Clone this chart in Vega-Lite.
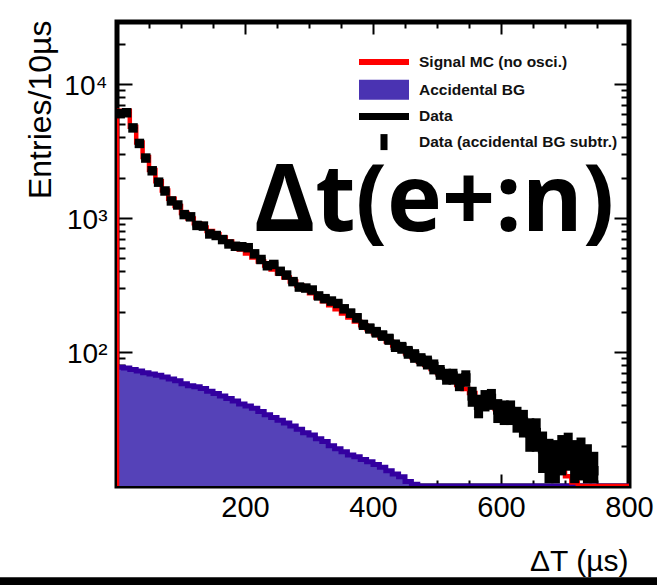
{
  "$schema": "https://vega.github.io/schema/vega-lite/v6.json",
  "width": 512,
  "height": 464,
  "autosize": {"type": "none"},
  "padding": {"left": 117, "top": 22, "right": 28, "bottom": 99},
  "background": "white",
  "config": {
    "view": {"stroke": "black", "strokeWidth": 5},
    "font": "Liberation Sans",
    "axis": {"grid": false, "domain": false, "tickColor": "black", "tickWidth": 2, "labelColor": "black", "titleColor": "black", "zindex": 1, "labelFont": "Liberation Sans", "titleFont": "Liberation Sans", "titleFontWeight": "normal", "labelFlush": false, "labelOverlap": false, "labelBound": false}
  },
  "datasets": {
    "mc": [{"x":0,"v":10},{"x":0,"v":6300},{"x":10,"v":6300},{"x":20,"v":4800},{"x":30,"v":3650},{"x":40,"v":2850},{"x":50,"v":2280},{"x":60,"v":1880},{"x":70,"v":1600},{"x":80,"v":1390},{"x":90,"v":1230},{"x":100,"v":1090},{"x":110,"v":990},{"x":120,"v":915},{"x":130,"v":850},{"x":140,"v":800},{"x":150,"v":755},{"x":160,"v":714},{"x":170,"v":667},{"x":180,"v":623},{"x":190,"v":581},{"x":200,"v":543},{"x":210,"v":507},{"x":220,"v":473},{"x":230,"v":442},{"x":240,"v":413},{"x":250,"v":385},{"x":260,"v":360},{"x":270,"v":336},{"x":280,"v":314},{"x":290,"v":293},{"x":300,"v":274},{"x":310,"v":255},{"x":320,"v":239},{"x":330,"v":223},{"x":340,"v":208},{"x":350,"v":194},{"x":360,"v":181},{"x":370,"v":169},{"x":380,"v":158},{"x":390,"v":148},{"x":400,"v":138},{"x":410,"v":129},{"x":420,"v":120},{"x":430,"v":112},{"x":440,"v":105},{"x":450,"v":98},{"x":460,"v":91.5},{"x":470,"v":85},{"x":480,"v":80},{"x":490,"v":74.5},{"x":500,"v":69.6},{"x":510,"v":65},{"x":520,"v":60.7},{"x":530,"v":56.6},{"x":540,"v":52.9},{"x":550,"v":49.4},{"x":560,"v":46},{"x":570,"v":43},{"x":580,"v":40},{"x":590,"v":37.6},{"x":600,"v":35},{"x":610,"v":32.5},{"x":620,"v":30},{"x":630,"v":27.5},{"x":640,"v":24.5},{"x":650,"v":21.5},{"x":660,"v":19},{"x":670,"v":17},{"x":680,"v":15},{"x":690,"v":13.3},{"x":700,"v":11.8},{"x":710,"v":10.6},{"x":720,"v":10},{"x":730,"v":10},{"x":740,"v":10},{"x":750,"v":10},{"x":760,"v":10},{"x":770,"v":10},{"x":780,"v":10},{"x":790,"v":10},{"x":800,"v":10}],
    "bg": [{"x":0,"v":77},{"x":10,"v":76},{"x":20,"v":74},{"x":30,"v":72},{"x":40,"v":70},{"x":50,"v":68.5},{"x":60,"v":67},{"x":70,"v":65},{"x":80,"v":63},{"x":90,"v":61},{"x":100,"v":58},{"x":110,"v":56},{"x":120,"v":55},{"x":130,"v":53.5},{"x":140,"v":51},{"x":150,"v":49},{"x":160,"v":47},{"x":170,"v":45},{"x":180,"v":43},{"x":190,"v":41},{"x":200,"v":39.5},{"x":210,"v":38},{"x":220,"v":36},{"x":230,"v":34},{"x":240,"v":32.5},{"x":250,"v":31},{"x":260,"v":29.5},{"x":270,"v":28},{"x":280,"v":26.5},{"x":290,"v":25},{"x":300,"v":24},{"x":310,"v":22.5},{"x":320,"v":21.5},{"x":330,"v":20},{"x":340,"v":19},{"x":350,"v":18},{"x":360,"v":17},{"x":370,"v":16.5},{"x":380,"v":15.8},{"x":390,"v":15.2},{"x":400,"v":14.5},{"x":410,"v":13.8},{"x":420,"v":13},{"x":430,"v":12.3},{"x":440,"v":11.7},{"x":450,"v":10.8},{"x":460,"v":10.3},{"x":470,"v":10},{"x":480,"v":10},{"x":490,"v":10},{"x":500,"v":10},{"x":510,"v":10},{"x":520,"v":10},{"x":530,"v":10},{"x":540,"v":10},{"x":550,"v":10},{"x":560,"v":10},{"x":570,"v":10},{"x":580,"v":10},{"x":590,"v":10},{"x":600,"v":10},{"x":610,"v":10},{"x":620,"v":10},{"x":630,"v":10},{"x":640,"v":10},{"x":650,"v":10},{"x":660,"v":10},{"x":670,"v":10},{"x":680,"v":10},{"x":690,"v":10},{"x":700,"v":10},{"x":710,"v":10},{"x":720,"v":10},{"x":730,"v":10},{"x":740,"v":10},{"x":750,"v":10},{"x":760,"v":10},{"x":770,"v":10},{"x":780,"v":10},{"x":790,"v":10},{"x":800,"v":10}],
    "pts": [{"c":5,"v":6000,"lo":5920,"hi":6080},{"c":15,"v":6100,"lo":6020,"hi":6180},{"c":25,"v":4700,"lo":4630,"hi":4770},{"c":35,"v":3600,"lo":3540,"hi":3660},{"c":45,"v":2800,"lo":2745,"hi":2855},{"c":55,"v":2250,"lo":2200,"hi":2300},{"c":65,"v":1850,"lo":1807,"hi":1893},{"c":75,"v":1590,"lo":1550,"hi":1630},{"c":85,"v":1340,"lo":1303,"hi":1377},{"c":95,"v":1250,"lo":1215,"hi":1285},{"c":105,"v":1060,"lo":1027,"hi":1093},{"c":115,"v":1020,"lo":988,"hi":1052},{"c":125,"v":880,"lo":850,"hi":910},{"c":135,"v":870,"lo":840,"hi":900},{"c":145,"v":760,"lo":732,"hi":788},{"c":155,"v":740,"lo":713,"hi":767},{"c":165,"v":690,"lo":664,"hi":716},{"c":175,"v":640,"lo":614,"hi":666},{"c":185,"v":615,"lo":590,"hi":640},{"c":195,"v":610,"lo":585,"hi":635},{"c":205,"v":600,"lo":575,"hi":625},{"c":215,"v":540,"lo":516,"hi":564},{"c":225,"v":490,"lo":467,"hi":513},{"c":235,"v":440,"lo":418,"hi":462},{"c":245,"v":450,"lo":428,"hi":472},{"c":255,"v":400,"lo":379,"hi":421},{"c":265,"v":375,"lo":355,"hi":395},{"c":275,"v":335,"lo":316,"hi":354},{"c":285,"v":305,"lo":286,"hi":324},{"c":295,"v":300,"lo":282,"hi":318},{"c":305,"v":290,"lo":272,"hi":308},{"c":315,"v":262,"lo":245,"hi":279},{"c":325,"v":250,"lo":233,"hi":267},{"c":335,"v":240,"lo":223,"hi":257},{"c":345,"v":230,"lo":214,"hi":246},{"c":355,"v":210,"lo":195,"hi":225},{"c":365,"v":195,"lo":180,"hi":210},{"c":375,"v":180,"lo":166,"hi":194},{"c":385,"v":160,"lo":146,"hi":174},{"c":395,"v":150,"lo":137,"hi":163},{"c":405,"v":141,"lo":128,"hi":154},{"c":415,"v":133,"lo":121,"hi":145},{"c":425,"v":125,"lo":113,"hi":137},{"c":435,"v":112,"lo":100,"hi":124},{"c":445,"v":108,"lo":97,"hi":119},{"c":455,"v":100,"lo":89,"hi":111},{"c":465,"v":94,"lo":83,"hi":105},{"c":475,"v":88,"lo":78,"hi":98},{"c":485,"v":84,"lo":74,"hi":94},{"c":495,"v":78,"lo":68,"hi":88},{"c":505,"v":71,"lo":62,"hi":80},{"c":515,"v":66,"lo":57,"hi":75},{"c":525,"v":66,"lo":57,"hi":75},{"c":535,"v":60,"lo":51,"hi":69},{"c":545,"v":64,"lo":55,"hi":73},{"c":555,"v":47,"lo":39,"hi":55},{"c":565,"v":40,"lo":32,"hi":48},{"c":575,"v":44,"lo":36,"hi":52},{"c":585,"v":45,"lo":37,"hi":53},{"c":595,"v":37,"lo":29.5,"hi":44.5},{"c":605,"v":36,"lo":28.5,"hi":43.5},{"c":615,"v":36,"lo":28.5,"hi":43.5},{"c":625,"v":32,"lo":25,"hi":39},{"c":635,"v":30,"lo":23,"hi":37},{"c":645,"v":25,"lo":18,"hi":32},{"c":655,"v":25,"lo":18,"hi":32},{"c":665,"v":19,"lo":12.5,"hi":25.5},{"c":675,"v":16,"lo":10.5,"hi":22.5},{"c":685,"v":16,"lo":10.5,"hi":22},{"c":695,"v":18,"lo":12,"hi":24},{"c":705,"v":19,"lo":13,"hi":25},{"c":715,"v":16,"lo":10.5,"hi":22},{"c":725,"v":17,"lo":11,"hi":23},{"c":735,"v":15,"lo":10.5,"hi":20.5},{"c":745,"v":13,"lo":10.5,"hi":18}],
    "legend": [{"series": "Signal MC (no osci.)"}, {"series": "Accidental BG"}, {"series": "Data"}, {"series": "Data (accidental BG subtr.)"}]
  },
  "layer": [
    {
      "data": {"name": "bg"},
      "mark": {"type": "area", "interpolate": "step-after", "color": "#5542b8", "clip": true},
      "encoding": {
        "x": {"field": "x", "type": "quantitative", "scale": {"type": "linear", "domain": [0, 800], "nice": false, "zero": false},
              "axis": {"orient": "bottom", "values": [200, 400, 600, 800], "format": "d", "tickSize": 12, "offset": -12, "labelFontSize": 29, "labelPadding": 7, "title": "ΔT (µs)", "titleFontSize": 30, "titleX": 511, "titleY": 96, "titleAlign": "right", "titleBaseline": "alphabetic", "titleAnchor": "end"}},
        "y": {"field": "v", "type": "quantitative", "scale": {"type": "log", "domain": [10, 29000], "nice": false},
              "axis": {"orient": "left", "values": [100, 1000, 10000], "tickSize": 15, "offset": -15, "labelFontSize": 28, "labelPadding": 10, "labelBaseline": "middle", "labelOffset": 3, "labelExpr": "datum.value == 100 ? '10²' : datum.value == 1000 ? '10³' : '10⁴'", "title": "Entries/10µs", "titleFontSize": 32, "titleAngle": -90, "titleX": -92, "titleY": -2, "titleAlign": "right", "titleBaseline": "middle"}},
        "y2": {"datum": 10}
      }
    },
    {
      "data": {"name": "bg"},
      "mark": {"type": "line", "interpolate": "step-after", "color": "#3300a0", "strokeWidth": 5, "clip": true},
      "encoding": {
        "x": {"field": "x", "type": "quantitative", "scale": {"type": "linear", "domain": [0, 800], "nice": false, "zero": false},
              "axis": {"orient": "bottom", "values": [50, 100, 150, 250, 300, 350, 450, 500, 550, 650, 700, 750], "tickSize": 6, "offset": -6, "labels": false, "title": null}},
        "y": {"field": "v", "type": "quantitative", "scale": {"type": "log", "domain": [10, 29000], "nice": false},
              "axis": {"orient": "left", "values": [20, 30, 40, 50, 60, 70, 80, 90, 200, 300, 400, 500, 600, 700, 800, 900, 2000, 3000, 4000, 5000, 6000, 7000, 8000, 9000, 20000], "tickSize": 8, "offset": -8, "labels": false, "title": null}}
      }
    },
    {
      "data": {"name": "mc"},
      "mark": {"type": "line", "interpolate": "step-after", "color": "#ff0000", "strokeWidth": 4.5, "clip": true},
      "encoding": {
        "x": {"field": "x", "type": "quantitative", "scale": {"type": "linear", "domain": [0, 800], "nice": false, "zero": false},
              "axis": {"orient": "top", "values": [200, 400, 600], "tickSize": 12, "offset": -12, "labels": false, "title": null}},
        "y": {"field": "v", "type": "quantitative", "scale": {"type": "log", "domain": [10, 29000], "nice": false},
              "axis": {"orient": "right", "values": [100, 1000, 10000], "tickSize": 15, "offset": -15, "labels": false, "title": null}},
        "order": {"value": null}
      }
    },
    {
      "data": {"name": "pts"},
      "mark": {"type": "rule", "color": "black", "strokeWidth": 9, "clip": true},
      "encoding": {
        "x": {"field": "c", "type": "quantitative", "scale": {"type": "linear", "domain": [0, 800], "nice": false, "zero": false},
              "axis": {"orient": "top", "values": [50, 100, 150, 250, 300, 350, 450, 500, 550, 650, 700, 750], "tickSize": 6, "offset": -6, "labels": false, "title": null}},
        "y": {"field": "lo", "type": "quantitative", "scale": {"type": "log", "domain": [10, 29000], "nice": false},
              "axis": {"orient": "right", "values": [20, 30, 40, 50, 60, 70, 80, 90, 200, 300, 400, 500, 600, 700, 800, 900, 2000, 3000, 4000, 5000, 6000, 7000, 8000, 9000, 20000], "tickSize": 8, "offset": -8, "labels": false, "title": null}},
        "y2": {"field": "hi"}
      }
    },
    {
      "data": {"name": "pts"},
      "mark": {"type": "point", "shape": "square", "filled": true, "size": 90, "color": "black", "opacity": 1, "clip": true},
      "encoding": {
        "x": {"field": "c", "type": "quantitative", "scale": {"type": "linear", "domain": [0, 800], "nice": false, "zero": false}, "axis": null},
        "y": {"field": "v", "type": "quantitative", "scale": {"type": "log", "domain": [10, 29000], "nice": false}, "axis": null}
      }
    },
    {
      "data": {"values": [{"label": "Δt(e+:n)"}]},
      "mark": {"type": "text", "font": "Open Sans", "fontWeight": "bold", "fontSize": 93, "align": "left", "baseline": "alphabetic", "color": "black"},
      "encoding": {
        "x": {"datum": 214, "type": "quantitative", "scale": {"type": "linear", "domain": [0, 800], "nice": false, "zero": false}, "axis": null},
        "y": {"datum": 800, "type": "quantitative", "scale": {"type": "log", "domain": [10, 29000], "nice": false}, "axis": null},
        "text": {"field": "label"}
      }
    },
    {
      "data": {"values": [{"bar": 1}]},
      "mark": {"type": "rule", "color": "black", "strokeWidth": 8, "clip": false},
      "encoding": {
        "x": {"datum": -200, "type": "quantitative", "scale": {"type": "linear", "domain": [0, 800], "nice": false, "zero": false}, "axis": null},
        "x2": {"datum": 900},
        "y": {"datum": 1.95, "type": "quantitative", "scale": {"type": "log", "domain": [10, 29000], "nice": false}, "axis": null}
      }
    },
    {
      "data": {"name": "legend"},
      "mark": {"type": "point", "filled": true, "size": 256, "opacity": 0, "strokeWidth": 0},
      "encoding": {
        "color": {"field": "series", "type": "nominal",
                  "scale": {"domain": ["Signal MC (no osci.)", "Accidental BG", "Data", "Data (accidental BG subtr.)"], "range": ["#ff0000", "#4a33b2", "#000000", "#000000"]},
                  "legend": {"orient": "none", "legendX": 259, "legendY": 32, "title": null, "padding": 0, "offset": 0, "labelFont": "Liberation Sans", "labelFontWeight": "bold", "labelFontSize": 15.5, "labelColor": "#111111", "labelOffset": 27, "labelLimit": 400, "rowPadding": 8.7, "symbolOpacity": 1, "symbolStrokeWidth": 0, "symbolSize": 256}},
        "shape": {"field": "series", "type": "nominal",
                  "scale": {"domain": ["Signal MC (no osci.)", "Accidental BG", "Data", "Data (accidental BG subtr.)"], "range": ["M-3.125,-0.375H3.125V0.375H-3.125Z", "M-3.125,-1.25H3.125V1.25H-3.125Z", "M-3.125,-0.44H3.125V0.44H-3.125Z", "M-0.44,-1H0.44V1H-0.44Z"]},
                  "legend": {"orient": "none", "legendX": 259, "legendY": 32, "title": null, "padding": 0, "offset": 0, "labelFont": "Liberation Sans", "labelFontWeight": "bold", "labelFontSize": 15.5, "labelColor": "#111111", "labelOffset": 27, "labelLimit": 400, "rowPadding": 8.7, "symbolOpacity": 1, "symbolStrokeWidth": 0, "symbolSize": 256}}
      }
    }
  ],
  "resolve": {"axis": {"x": "independent", "y": "independent"}}
}
